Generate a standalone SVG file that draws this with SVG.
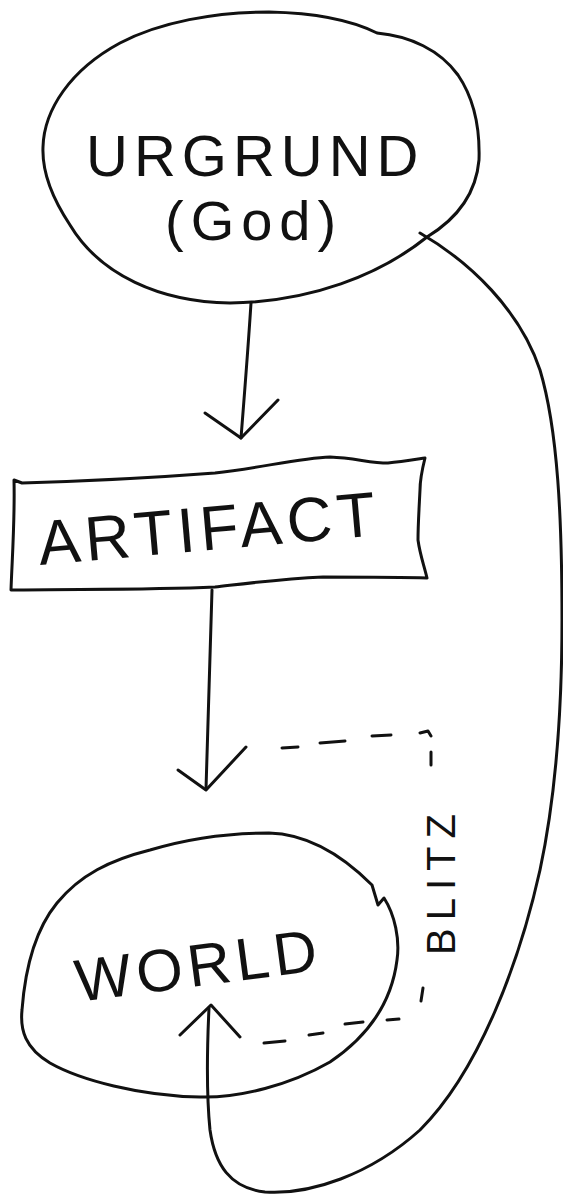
<svg xmlns="http://www.w3.org/2000/svg" width="563" height="1196" viewBox="0 0 563 1196">
<style>
.ln{fill:none;stroke:#111;stroke-width:3;stroke-linecap:round;stroke-linejoin:round}
.tx{font-family:"Liberation Sans",Arial,sans-serif;fill:#111}
</style>
<rect width="563" height="1196" fill="#fff"/>
<g id="urgrund">
<path class="ln" d="M269 12 C320 13 355 22 377 33 C410 36 440 50 458 75 C475 100 480 130 479 160 C476 195 455 220 427 237 C380 275 310 302 230 303 C160 302 100 275 70 225 C50 195 42 170 43 147 C44 110 70 70 120 43 C160 22 215 12 269 12 Z"/>
<text class="tx" x="86" y="176" font-size="58" letter-spacing="6">URGRUND</text>
<text class="tx" x="165" y="240" font-size="56" letter-spacing="7">(God)</text>
</g>
<g id="artifact">
<path class="ln" d="M14 480 L22 483 C90 481 150 478 215 473 C260 468 300 458 330 457 C355 458 370 463 388 463 C400 462 412 460 425 458 C422 470 420 480 420 490 C419 510 418 525 418 540 C420 555 424 565 427 578 C400 577 360 577 323 577 C280 579 250 583 215 587 C150 590 80 589 11 590 C12 560 15 520 14 480 Z"/>
<text class="tx" x="40" y="565" font-size="63" letter-spacing="5" transform="rotate(-5 40 565)">ARTIFACT</text>
</g>
<g id="world">
<path class="ln" d="M269 833 C310 834 345 858 372 885 L378 905 L384 898 C395 915 400 940 397 960 C392 1000 370 1035 330 1062 C290 1085 240 1098 200 1097 C140 1096 80 1080 50 1063 C25 1048 20 1030 22 1010 C25 970 35 930 57 903 C80 875 110 860 150 850 C190 838 230 833 269 833 Z"/>
<text class="tx" x="78" y="1002" font-size="60" letter-spacing="5" transform="rotate(-7.5 78 1002)">WORLD</text>
</g>
<g id="blitz">
<text class="tx" x="455" y="955" font-size="40" letter-spacing="8" transform="rotate(-90 455 955)">BLITZ</text>
</g>
<g id="connectors">
<path class="ln" d="M251 303 C248 350 244 400 241 438"/>
<polyline class="ln" points="205,413 241,438 278,400"/>
<path class="ln" d="M212 590 C210 660 208 730 206 789"/>
<polyline class="ln" points="178,770 206,790 246,747"/>
<path class="ln" d="M420 233 C470 262 520 310 540 370 C558 430 562 520 562 620 C562 720 555 800 540 870 C520 960 480 1070 420 1130 C370 1175 310 1195 265 1192 C230 1188 215 1165 210 1130 C206 1090 207 1050 209 1008"/>
<polyline class="ln" points="180,1035 211,1005 240,1037"/>
<path class="ln" d="M282 748 L298 747 M320 743 L345 741 M372 736 L391 735 M420 733 L428 731 L431 736 M431 752 L431 765"/>
<path class="ln" d="M423 988 L421 1001"/>
<path class="ln" d="M264 1043 L285 1041 M309 1035 L323 1033 M345 1024 L363 1022 M387 1020 L399 1019"/>
</g>
</svg>
